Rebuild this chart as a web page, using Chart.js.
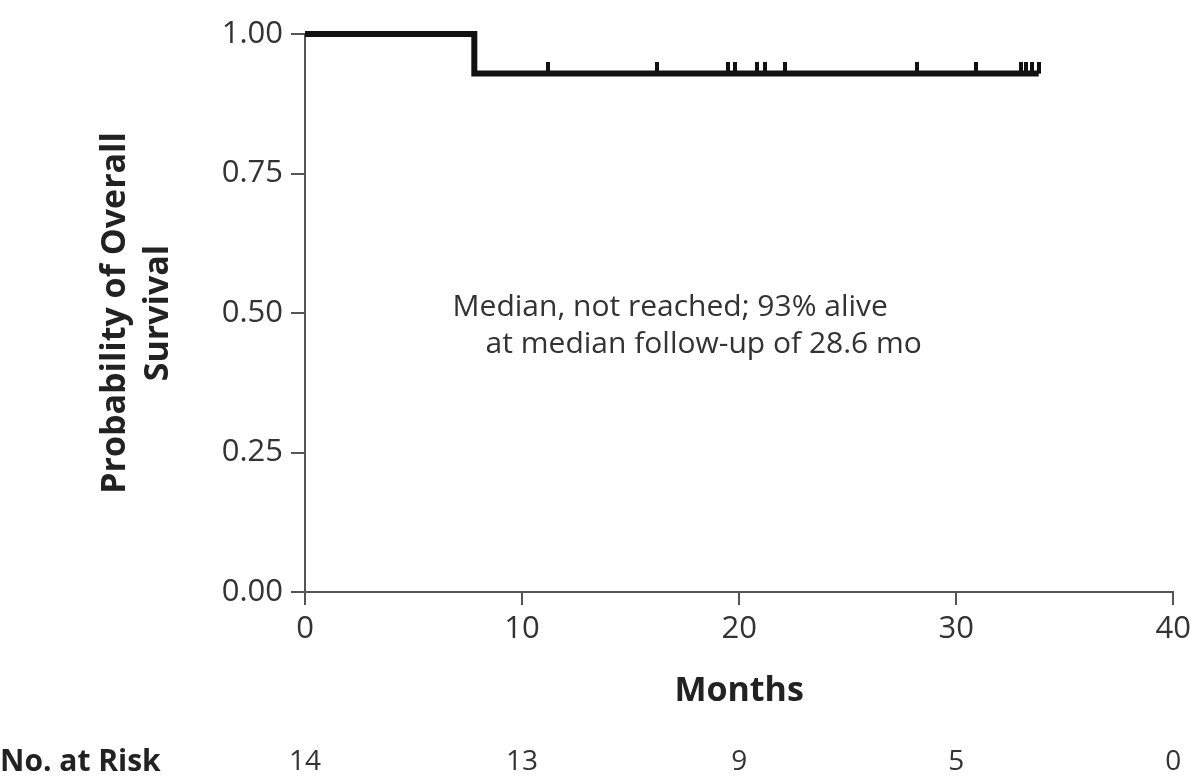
<!DOCTYPE html>
<html>
<head>
<meta charset="utf-8">
<title>Overall Survival</title>
<script src="https://cdn.jsdelivr.net/npm/chart.js@4.4.1/dist/chart.umd.min.js"></script>
<style>
  html, body { margin: 0; padding: 0; background: #fff; }
  #wrap { width: 1197px; height: 783px; position: relative; }
</style>
</head>
<body>
<div id="wrap"><canvas id="kmChart"></canvas></div>
<script>
// Kaplan-Meier curve (months, survival probability)
const stepMonths = [0, 7.8, 33.8];
const stepSurvival = [1.0, 0.929, 0.929];

// censored patients
const censorMonths = [11.2, 16.2, 19.5, 19.8, 20.8, 21.2, 22.1, 28.2, 30.9, 33.0, 33.2, 33.5, 33.8];
const censorSurvival = [0.929, 0.929, 0.929, 0.929, 0.929, 0.929, 0.929, 0.929, 0.929, 0.929, 0.929, 0.929, 0.929];

// number at risk
const riskMonths = [0, 10, 20, 30, 40];
const riskCounts = [14, 13, 9, 5, 0];

const annotationLines = ["Median, not reached; 93% alive", "at median follow-up of 28.6 mo"];

const FONT = "'Open Sans', 'Noto Sans', sans-serif";
const TEXT_COLOR = "#333";
const AXIS_COLOR = "#555";

// censor mark: short vertical tick sitting on top of the line
function makeCensorMark() {
  const c = document.createElement("canvas");
  c.width = 4;
  c.height = 24;
  const g = c.getContext("2d");
  g.fillStyle = "#111";
  g.fillRect(0, 0, 4, 12);
  return c;
}

// annotation text and the at-risk row
const extraText = {
  id: "extraText",
  afterDraw(chart) {
    const ctx = chart.ctx;
    const x = chart.scales.x;
    const y = chart.scales.y;
    ctx.save();
    ctx.fillStyle = TEXT_COLOR;
    ctx.textBaseline = "middle";

    ctx.font = "30px " + FONT;
    ctx.textAlign = "left";
    const ax = x.getPixelForValue(6.8);
    const ay = y.getPixelForValue(0.5);
    ctx.fillText(annotationLines[0], ax, ay - 6);
    ctx.fillText(annotationLines[1], ax + 33, ay + 31);

    ctx.font = "bold 30px " + FONT;
    ctx.fillStyle = "#222";
    ctx.fillText("No. at Risk", 0, 762);

    ctx.font = "28px " + FONT;
    ctx.fillStyle = TEXT_COLOR;
    ctx.textAlign = "center";
    riskMonths.forEach((m, i) => {
      ctx.fillText(String(riskCounts[i]), x.getPixelForValue(m), 762);
    });
    ctx.restore();
  },
};

new Chart(document.getElementById("kmChart"), {
  type: "line",
  data: {
    datasets: [
      {
        label: "Survival",
        data: stepMonths.map((m, i) => ({ x: m, y: stepSurvival[i] })),
        stepped: "before",
        borderColor: "#111",
        borderWidth: 6,
        borderCapStyle: "butt",
        pointRadius: 0,
        fill: false,
        clip: false,
      },
      {
        label: "Censored",
        data: censorMonths.map((m, i) => ({ x: m, y: censorSurvival[i] })),
        showLine: false,
        pointStyle: makeCensorMark(),
        pointRadius: 5,
        clip: false,
      },
    ],
  },
  options: {
    responsive: true,
    maintainAspectRatio: false,
    animation: false,
    layout: { padding: { top: 34, right: 22, left: 0, bottom: 0 } },
    plugins: {
      legend: { display: false },
      tooltip: { enabled: false },
    },
    scales: {
      x: {
        type: "linear",
        min: 0,
        max: 40,
        afterFit: function (scale) {
          scale.height = 191;
        },
        ticks: {
          stepSize: 10,
          color: TEXT_COLOR,
          font: { family: FONT, size: 31 },
          padding: 6,
          maxRotation: 0,
        },
        grid: { drawOnChartArea: false, drawTicks: true, tickLength: 13, color: AXIS_COLOR, lineWidth: 2 },
        border: { display: true, color: AXIS_COLOR, width: 2 },
        title: {
          display: true,
          text: "Months",
          color: "#222",
          font: { family: FONT, size: 34, weight: "bold" },
          padding: { top: 0, bottom: 71 },
        },
      },
      y: {
        min: 0,
        max: 1,
        afterFit: function (scale) {
          scale.width = 305;
        },
        ticks: {
          stepSize: 0.25,
          color: TEXT_COLOR,
          font: { family: FONT, size: 31 },
          padding: 8,
          callback: function (value) {
            return value.toFixed(2);
          },
        },
        grid: { drawOnChartArea: false, drawTicks: true, tickLength: 14, color: AXIS_COLOR, lineWidth: 2 },
        border: { display: true, color: AXIS_COLOR, width: 2 },
        title: {
          display: true,
          text: ["Probability of Overall", "Survival"],
          color: "#222",
          font: { family: FONT, size: 34, weight: "bold", lineHeight: 1.27 },
          padding: { top: 94, bottom: 0 },
        },
      },
    },
  },
  plugins: [extraText],
});
</script>
</body>
</html>
